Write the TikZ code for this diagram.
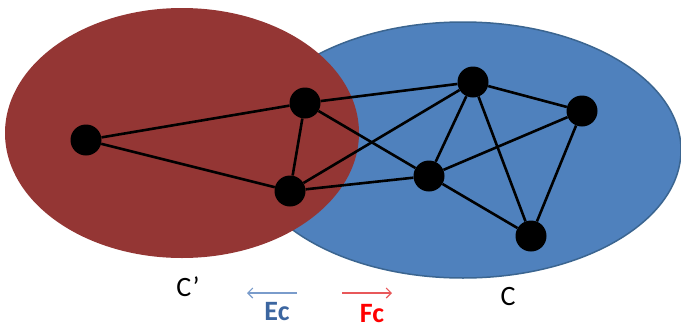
\documentclass[tikz,border=0pt]{standalone}
\usepackage{fontspec}
\setmainfont{Carlito}
\usetikzlibrary{arrows.meta}
\definecolor{cblue}{HTML}{4F81BD}
\definecolor{cblueline}{HTML}{3B6590}
\definecolor{cred}{HTML}{943634}
\definecolor{ecblue}{HTML}{3C66A0}
\definecolor{arrblue}{HTML}{7A9CCB}
\definecolor{arrred}{HTML}{E8585A}
\begin{document}
\begin{tikzpicture}[x=1pt,y=-1pt,
  vtx/.style={circle,fill=black,minimum size=31pt,inner sep=0pt},
  edge/.style={line width=2.6pt,black},
  lbl/.style={font=\fontsize{28}{32}\selectfont},
  arr/.style={line width=1.1pt,-{Straight Barb[length=5pt,width=10pt]}}]
\useasboundingbox (0,0) rectangle (681,330);
\fill[cblue,draw=cblueline,line width=1.5pt] (463,150) ellipse [x radius=218, y radius=128];
\fill[cred] (182,133) ellipse [x radius=177, y radius=125];
\node[vtx] (A) at (86,140) {};
\node[vtx] (B) at (305,103) {};
\node[vtx] (C) at (290,191) {};
\node[vtx] (D) at (429,176) {};
\node[vtx] (E) at (473,82) {};
\node[vtx] (F) at (582,111) {};
\node[vtx] (G) at (531,236) {};
\draw[edge] (A) -- (B);
\draw[edge] (A) -- (C);
\draw[edge] (B) -- (C);
\draw[edge] (B) -- (E);
\draw[edge] (B) -- (D);
\draw[edge] (C) -- (E);
\draw[edge] (C) -- (D);
\draw[edge] (E) -- (D);
\draw[edge] (E) -- (F);
\draw[edge] (E) -- (G);
\draw[edge] (D) -- (F);
\draw[edge] (D) -- (G);
\draw[edge] (F) -- (G);
\node[lbl] (cp) at (188,287) {C’};
\node[lbl] (c) at (508,297) {C};
\coordinate (ea) at (297,293);
\coordinate (eb) at (247,293);
\coordinate (fa) at (342,293);
\coordinate (fb) at (392,293);
\draw[arr,arrblue] (ea) -- (eb);
\draw[arr,arrred] (fa) -- (fb);
\node[lbl,font=\fontsize{28}{32}\selectfont\bfseries,text=ecblue] (ec) at (277,312) {Ec};
\node[lbl,font=\fontsize{28}{32}\selectfont\bfseries,text=red] (fc) at (372,314) {Fc};
\end{tikzpicture}
\end{document}
